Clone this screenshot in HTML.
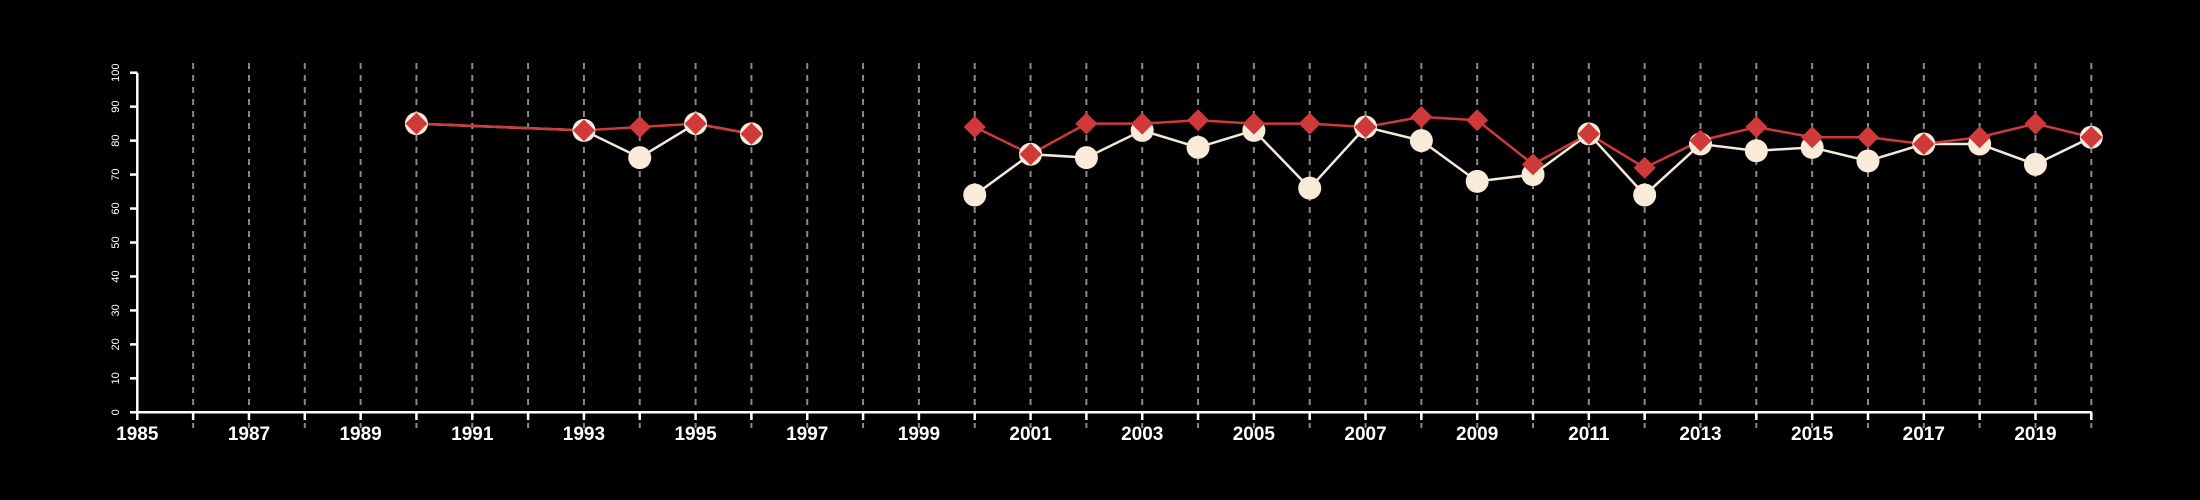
<!DOCTYPE html>
<html><head><meta charset="utf-8"><style>body{margin:0;background:#000}svg{display:block}</style></head>
<body>
<svg id="chart" width="2200" height="500" xmlns="http://www.w3.org/2000/svg" font-family="Liberation Sans, sans-serif">
<rect width="2200" height="500" fill="#000"/>
<g id="grid"></g><g id="axes"></g><g id="series"></g>
</svg>
<script>
const years=[1990,1993,1994,1995,1996,null,2000,2001,2002,2003,2004,2005,2006,2007,2008,2009,2010,2011,2012,2013,2014,2015,2016,2017,2018,2019,2020];
const whiteVals=[85,83,75,85,82,null,64,76,75,83,78,83,66,84,80,68,70,82,64,79,77,78,74,79,79,73,81];
const redVals=[85,83,84,85,82,null,84,76,85,85,86,85,85,84,87,86,73,82,72,80,84,81,81,79,81,85,81];
const yTicks=[0,10,20,30,40,50,60,70,80,90,100];
const xMin=1985,xMax=2020;
const NS='http://www.w3.org/2000/svg';
const X=y=>137.3+(y-xMin)*(2091.3-137.3)/(xMax-xMin);
const Y=v=>412.3-v*(412.3-72.7)/100;
function mk(t,a,p){const e=document.createElementNS(NS,t);for(const k in a)e.setAttribute(k,a[k]);p.appendChild(e);return e;}
const grid=document.getElementById('grid'),axes=document.getElementById('axes'),ser=document.getElementById('series');
for(let y=xMin+1;y<=xMax;y++){
  const l=mk('line',{x1:X(y),x2:X(y),y1:63,y2:428,stroke:'#888','stroke-width':2,'stroke-dasharray':'6,6'},grid);
  
  
}
const xa=mk('line',{x1:X(xMin),x2:X(xMax),y1:412.3,y2:412.3,stroke:'#fff','stroke-width':2.5},axes);


const ya=mk('line',{x1:137.3,x2:137.3,y1:Y(0),y2:Y(100),stroke:'#fff','stroke-width':2.5},axes);


for(let y=xMin;y<=xMax;y++){
  mk('line',{x1:X(y),x2:X(y),y1:412.3,y2:420,stroke:'#fff','stroke-width':2.5},axes);
  if((y-xMin)%2===0){
    const t=mk('text',{x:X(y),y:440,'text-anchor':'middle',fill:'#fff','font-size':19,'font-weight':'bold'},axes);
    t.textContent=y;
    
    
  }
}
yTicks.forEach(v=>{
  mk('line',{x1:130,x2:137.3,y1:Y(v),y2:Y(v),stroke:'#fff','stroke-width':2.5},axes);
  const t=mk('text',{x:0,y:0,transform:`translate(119,${Y(v)}) rotate(-90)`,'text-anchor':'middle',fill:'#fff','font-size':11},axes);
  t.textContent=v;
  
  
});
function path(vals,color){
  let d='',pen=false;
  years.forEach((yr,i)=>{
    if(yr===null||vals[i]===null){pen=false;return;}
    d+=(pen?'L':'M')+X(yr)+' '+Y(vals[i])+' ';pen=true;
  });
  return mk('path',{d:d,fill:'none',stroke:color,'stroke-width':2.5},ser);
}
const wl=path(whiteVals,'#f5e9d8');


const rl=path(redVals,'#d0393a');


years.forEach((yr,i)=>{
  if(yr===null)return;
  const c=mk('circle',{cx:X(yr),cy:Y(whiteVals[i]),r:11.5,fill:'#f8ebd9'},ser);
  
  
});
years.forEach((yr,i)=>{
  if(yr===null)return;
  const x=X(yr),y=Y(redVals[i]),s=11;
  const p=mk('polygon',{points:`${x},${y-s} ${x+s},${y} ${x},${y+s} ${x-s},${y}`,fill:'#d0393a'},ser);
  
  
});
</script>
</body></html>
